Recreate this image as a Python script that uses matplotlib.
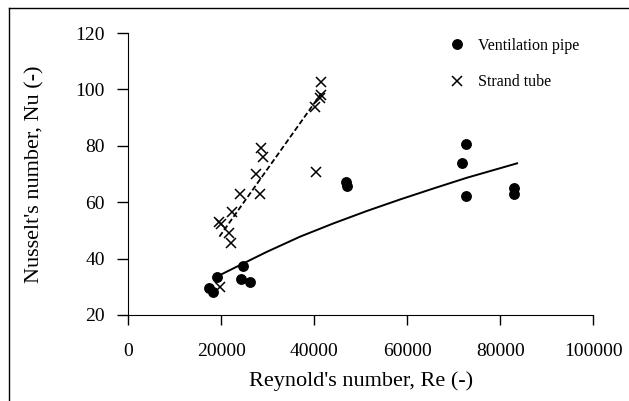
import numpy as np
import matplotlib.pyplot as plt
from matplotlib.lines import Line2D

# Ventilation pipe (circles)
vent_re = [17440, 18300, 19040, 24760, 24270, 26210, 46880, 47030,
           72650, 71790, 72650, 82900, 82900]
vent_nu = [29.5, 28.0, 33.6, 37.4, 32.8, 31.8, 67.3, 65.9,
           80.5, 73.8, 62.2, 65.1, 62.8]

# Strand tube (crosses)
strand_re = [41500, 41500, 41130, 40140, 28510, 29070, 27500, 40350,
             24050, 28360, 22390, 19600, 19900, 21620, 22050, 19750]
strand_nu = [102.7, 98.0, 96.8, 93.9, 79.3, 76.1, 70.0, 70.6,
             62.9, 62.8, 56.6, 53.1, 52.3, 49.0, 45.4, 30.0]

# trend lines
vent_fit_re = [19030, 24760, 29800, 36970, 44140, 51330, 58500, 65680, 72870, 83640]
vent_fit_nu = [33.6, 38.3, 42.4, 47.8, 52.5, 56.9, 61.0, 64.9, 68.7, 73.8]
strand_fit_re = [19600, 41500]
strand_fit_nu = [47.8, 98.6]

plt.rcParams['font.family'] = ['Liberation Serif', 'DejaVu Serif']

fig = plt.figure(figsize=(6.29, 4.01), dpi=100)
ax = fig.add_axes([0.204, 0.2145, 0.739, 0.703])

ax.plot(vent_fit_re, vent_fit_nu, color='black', lw=1.4)
ax.plot(strand_fit_re, strand_fit_nu, color='black', lw=1.3, ls=(0, (3, 1.5)))
ax.plot(vent_re, vent_nu, 'o', color='black', ms=6.8, label='Ventilation pipe')
ax.plot(strand_re, strand_nu, 'x', color='black', ms=7, mew=1.1, label='Strand tube')

ax.set_xlim(0, 100000)
ax.set_ylim(20, 120)
ax.set_xticks(np.arange(0, 100001, 20000))
ax.set_yticks(np.arange(20, 121, 20))
ax.spines['top'].set_visible(False)
ax.spines['right'].set_visible(False)
ax.tick_params(axis='x', direction='out', length=7, width=1, pad=13, labelsize=14)
ax.tick_params(axis='y', direction='out', length=8, width=1, pad=9, labelsize=14)

ax.set_xlabel("Reynold's number, Re (-)", fontsize=16, labelpad=8)
ax.set_ylabel("Nusselt's number, Nu (-)", fontsize=16, labelpad=22)

ax.legend(loc='upper right', bbox_to_anchor=(1.0, 1.035), frameon=False,
          fontsize=11.5, handletextpad=0.9, labelspacing=1.3, handlelength=0.8)

# page border left and top
fig.add_artist(Line2D([0.014, 0.014], [0, 0.98], color='black', lw=1))
fig.add_artist(Line2D([0.014, 1.0], [0.98, 0.98], color='black', lw=1))

fig.savefig('out.png', dpi=100)
